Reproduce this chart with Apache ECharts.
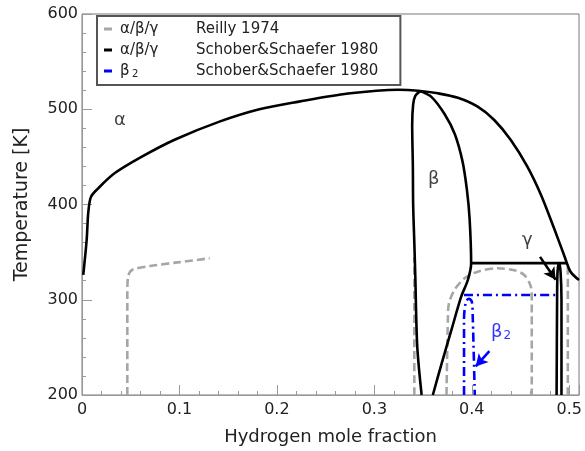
<!DOCTYPE html>
<html>
<head>
<meta charset="utf-8">
<script src="https://cdn.jsdelivr.net/npm/echarts@6/dist/echarts.min.js"></script>
<style>
  html, body { margin: 0; padding: 0; background: #fff; }
  #chart { width: 585px; height: 451px; }
</style>
</head>
<body>
<div id="chart"></div>
<script>
// x: hydrogen mole fraction, y: temperature [K]
const xTicks = [0, 0.1, 0.2, 0.3, 0.4, 0.5];
const yTicks = [200, 300, 400, 500, 600];

// Schober&Schaefer 1980 (black)
const alphaBoundary = [[0.0013,326],[0.0048,363],[0.0064,391],[0.0092,408],[0.0166,417],[0.0337,433],[0.061,450],[0.095,468],[0.141,487],[0.182,500],[0.2225,508],[0.273,516.5],[0.3245,520.5],[0.345,519.5],[0.3653,516.7],[0.3857,512],[0.406,502.7],[0.423,488.7],[0.44,467.7],[0.457,439.7],[0.471,410],[0.4844,375],[0.4946,347],[0.5013,329.4],[0.51,320.7]];
const betaLeft = [[0.347,519],[0.342,514],[0.3398,505],[0.3388,483.5],[0.3395,440],[0.3398,400],[0.341,360],[0.342,325],[0.344,251],[0.3485,200]];
const betaRight = [[0.347,519],[0.3585,513],[0.372,495],[0.3825,474],[0.3905,445],[0.395,415],[0.3977,385.5],[0.3993,338.3],[0.396,321],[0.389,303],[0.379,268],[0.369,233],[0.36,200]];
const gammaTop = [[0.3993,338.5],[0.4975,338.5]];
const gammaLoop = [[0.487,200],[0.4875,300],[0.488,330],[0.4895,338.5],[0.491,330],[0.492,300],[0.492,200]];

// Reilly 1974 (grey dashed)
const reillyAlpha = [[0.0465,200],[0.0465,305],[0.047,322],[0.049,329],[0.053,332],[0.07,335.5],[0.1,339.5],[0.131,343.5]];
const reillyBeta = [[0.341,200],[0.341,345]];
const reillyDome = [[0.374,200],[0.3755,282],[0.3765,296],[0.382,310],[0.3926,322.5],[0.406,329.5],[0.4265,333],[0.4436,331],[0.4538,326],[0.4605,314],[0.4615,300],[0.4615,200]];
const reillyGamma = [[0.4985,200],[0.4985,336]];

// beta2, Schober&Schaefer 1980 (blue dash-dot)
const beta2Top = [[0.392,305],[0.486,305]];
const beta2Loop = [[0.392,200],[0.392,280],[0.394,298],[0.397,301],[0.4,298],[0.401,280],[0.403,200]];

const phaseLabels = [[0.039,488,'α'],[0.361,426,'β'],[0.457,362,'γ']];
const beta2Label = [[0.43,266]];
const gammaArrow = [[0.47,345],[0.486,321]];
const beta2Arrow = [[0.418,246],[0.404,230]];

const legendNames = ['α/β/γ|Reilly 1974', 'α/β/γ|Schober&Schaefer 1980', 'β2|Schober&Schaefer 1980'];

const grey = '#a6a6a6', black = '#000000', blue = '#0000ff';

function curve(name, data, color, type) {
  return {
    name: name, type: 'line', data: data, showSymbol: false, symbol: 'none',
    smooth: 0.3, color: color, itemStyle: { color: color },
    lineStyle: { color: color, width: 2.6, type: type },
    silent: true, z: 3
  };
}

function arrow(points, color) {
  return {
    type: 'line', data: [], markLine: {
      silent: true, symbol: ['none', 'arrow'], symbolSize: [10, 12],
      label: { show: false },
      lineStyle: { color: color, width: 2.6, type: 'solid' },
      data: [[{ coord: points[0] }, { coord: points[1] }]]
    }
  };
}

const dashed = [8, 4];
const dashDot = [9, 4, 2, 4];

const option = {
  animation: false,
  textStyle: { fontFamily: 'DejaVu Sans' },
  grid: { left: 82, right: 4, top: 14, bottom: 56, show: true, borderColor: '#777', borderWidth: 1 },
  xAxis: {
    type: 'value', min: 0, max: 0.51, interval: 0.1,
    name: 'Hydrogen mole fraction', nameLocation: 'middle', nameGap: 33,
    nameTextStyle: { fontSize: 18, color: '#222' },
    axisLine: { lineStyle: { color: '#999' } },
    axisTick: { inside: true, length: 10, lineStyle: { color: '#999' } },
    minorTick: { show: true, splitNumber: 5, length: 4, lineStyle: { color: '#999' } },
    splitLine: { show: false },
    axisLabel: { fontSize: 16, color: '#222', margin: 7,
      formatter: v => xTicks.includes(Math.round(v * 10) / 10) ? String(Math.round(v * 10) / 10) : '' }
  },
  yAxis: {
    type: 'value', min: 200, max: 600, interval: 100,
    name: 'Temperature [K]', nameLocation: 'middle', nameGap: 50,
    nameTextStyle: { fontSize: 19, color: '#222' },
    axisLine: { show: true, lineStyle: { color: '#999' } },
    axisTick: { show: true, inside: true, length: 10, lineStyle: { color: '#999' } },
    minorTick: { show: true, splitNumber: 5, length: 4, lineStyle: { color: '#999' } },
    splitLine: { show: false },
    axisLabel: { fontSize: 16, color: '#222', margin: 4,
      formatter: v => yTicks.includes(v) ? String(v) : '' }
  },
  legend: {
    data: legendNames, orient: 'vertical', left: 97, top: 16,
    padding: [4, 22, 5, 7], itemGap: 3, itemWidth: 8, itemHeight: 3, icon: 'rect',
    backgroundColor: '#fff', borderColor: '#555', borderWidth: 2, borderRadius: 0,
    selectedMode: false,
    textStyle: {
      fontSize: 15, color: '#222', lineHeight: 18,
      rich: {
        a: { fontSize: 15, width: 76, color: '#222', padding: [0, 0, 0, 3] },
        a0: { fontSize: 15, width: 12, color: '#222', padding: [0, 0, 0, 3] },
        s: { fontSize: 10, width: 64, color: '#222', padding: [6, 0, 0, 0] },
        b: { fontSize: 15, color: '#222' }
      }
    },
    formatter: function (name) {
      const parts = name.split('|');
      if (parts[0] === 'β2') return '{a0|β}{s|2}{b|' + parts[1] + '}';
      return '{a|' + parts[0] + '}{b|' + parts[1] + '}';
    }
  },
  series: [
    curve(legendNames[0], reillyAlpha, grey, dashed),
    curve('r2', reillyBeta, grey, dashed),
    curve('r3', reillyDome, grey, dashed),
    curve('r4', reillyGamma, grey, dashed),
    curve(legendNames[1], alphaBoundary, black, 'solid'),
    curve('s2', betaLeft, black, 'solid'),
    curve('s3', betaRight, black, 'solid'),
    curve('s4', gammaTop, black, 'solid'),
    curve('s5', gammaLoop, black, 'solid'),
    curve(legendNames[2], beta2Top, blue, dashDot),
    curve('b2', beta2Loop, blue, dashDot),
    arrow(gammaArrow, black),
    arrow(beta2Arrow, blue),
    {
      type: 'scatter', symbolSize: 0, silent: true, data: phaseLabels,
      label: { show: true, position: 'inside', formatter: p => p.data[2], fontSize: 18, color: '#111' }
    },
    {
      type: 'scatter', symbolSize: 0, silent: true, data: beta2Label,
      label: { show: true, position: 'inside', formatter: '{m|β}{s|2}',
        rich: { m: { fontSize: 18, color: blue }, s: { fontSize: 12, color: blue, padding: [7, 0, 0, 1] } } }
    }
  ]
};

const myChart = echarts.init(document.getElementById('chart'), null, { renderer: 'canvas' });
myChart.setOption(option);
</script>
</body>
</html>
